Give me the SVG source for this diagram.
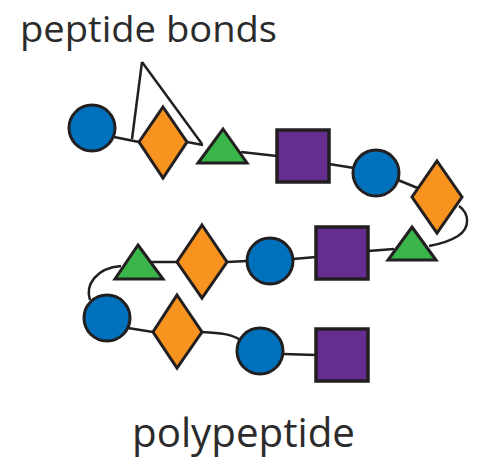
<svg xmlns="http://www.w3.org/2000/svg" width="503" height="470" viewBox="0 0 503 470">
<style>
.c{fill:#0071bc;stroke:#231f20;stroke-width:3}
.d{fill:#f7931e;stroke:#231f20;stroke-width:3;stroke-linejoin:miter}
.t{fill:#39b54a;stroke:#231f20;stroke-width:3}
.s{fill:#662d91;stroke:#231f20;stroke-width:3.5}
.l{fill:none;stroke:#231f20;stroke-width:2.5}
.txt{font-family:"Open Sans","Noto Sans",sans-serif;fill:#2b2b2b}
</style>
<rect width="503" height="470" fill="#fff"/>
<g id="connectors">
<path class="l" d="M142,62 L132,139 M142,62 L202,144"/>
<path class="l" d="M114,137 L139,142"/>
<path class="l" d="M187,142 L203,145"/>
<path class="l" d="M241,152 L277,156"/>
<path class="l" d="M329,164 L354,168"/>
<path class="l" d="M398,180 L420,189"/>
<path class="l" d="M459,206 C470,214 470,228 458,236 C450,241 440,244 429,246"/>
<path class="l" d="M368,251 L394,249"/>
<path class="l" d="M293,259 L316,257"/>
<path class="l" d="M227,262 L247,261"/>
<path class="l" d="M150,262 L177,262"/>
<path class="l" d="M121,266 C96,268 85,285 90,300"/>
<path class="l" d="M128,328 L153,332"/>
<path class="l" d="M202,332 C220,333 232,334 240,340"/>
<path class="l" d="M283,354 L316,355"/>
</g>
<g id="n1"><circle class="c" cx="92" cy="128" r="23"/></g>
<g id="n2"><polygon class="d" points="163,107 187,142 163,178 139,142"/></g>
<g id="n3"><polygon class="t" points="223,129 247,163 198,163"/></g>
<g id="n4"><rect class="s" x="277" y="130" width="52" height="52"/></g>
<g id="n5"><circle class="c" cx="376" cy="173" r="23"/></g>
<g id="n6"><polygon class="d" points="437,161 462,197 437,233 412,197"/></g>
<g id="n7"><polygon class="t" points="412,227 436,260 388,260"/></g>
<g id="n8"><rect class="s" x="316" y="227" width="52" height="52"/></g>
<g id="n9"><circle class="c" cx="270" cy="261" r="23"/></g>
<g id="n10"><polygon class="d" points="202,225 227,262 202,298 177,262"/></g>
<g id="n11"><polygon class="t" points="138,245 163,279 115,279"/></g>
<g id="n12"><circle class="c" cx="107" cy="318" r="23"/></g>
<g id="n13"><polygon class="d" points="177,295 202,332 177,368 153,332"/></g>
<g id="n14"><circle class="c" cx="260" cy="351" r="23"/></g>
<g id="n15"><rect class="s" x="316" y="329" width="52" height="52"/></g>
<g id="labels">
<text class="txt" x="20" y="42" font-size="37" textLength="257" lengthAdjust="spacingAndGlyphs">peptide bonds</text>
<text class="txt" x="132" y="447" font-size="40" textLength="223" lengthAdjust="spacingAndGlyphs">polypeptide</text>
</g>
</svg>
